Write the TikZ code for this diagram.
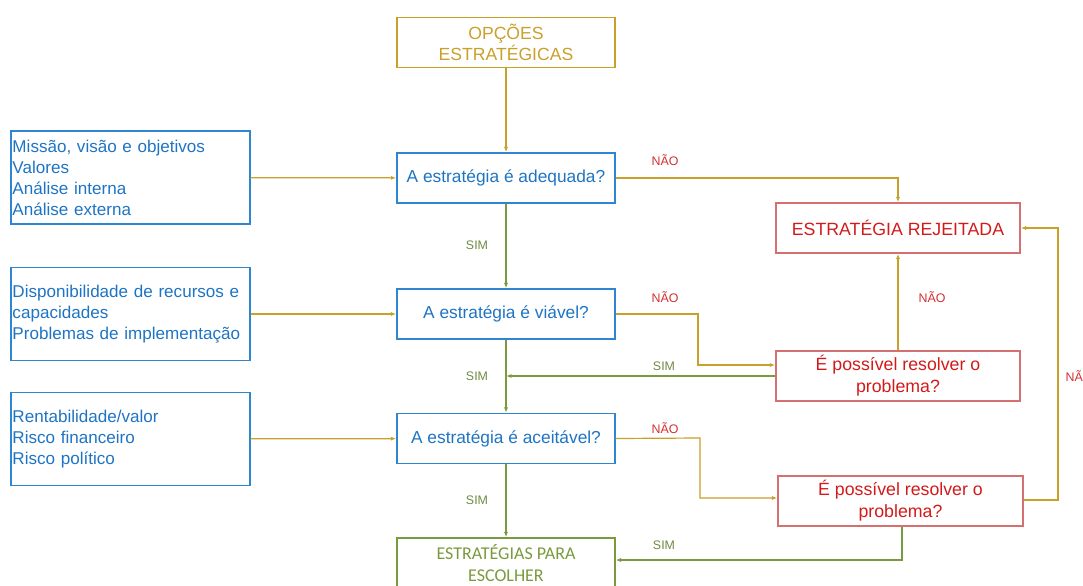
\documentclass[tikz,border=0pt]{standalone}
\usepackage{fontspec}
\setmainfont{Liberation Sans}
\newfontfamily\calibrilike{Carlito}
\usetikzlibrary{arrows.meta}
\definecolor{gold}{HTML}{C9A02A}
\definecolor{qblue}{HTML}{2F86D0}
\definecolor{tblue}{HTML}{1E74C4}
\definecolor{rtext}{HTML}{D21A1A}
\definecolor{rline}{HTML}{D57070}
\definecolor{sgreen}{HTML}{7A9A3E}
\definecolor{lblred}{HTML}{D23030}
\definecolor{lblgreen}{HTML}{6F8A45}
\tikzset{
  box/.style={draw, rectangle, line width=1.1pt, inner sep=0pt, align=center},
  qbox/.style={box, draw=qblue, text=tblue, minimum width=163.5pt, minimum height=37.5pt, font=\fontsize{13}{15}\selectfont},
  inbox/.style={box, draw=qblue, text=tblue, minimum width=179.25pt, minimum height=69.75pt, text width=177pt, align=left, font=\fontsize{12.8}{15.7}\selectfont},
  rbox/.style={box, draw=rline, text=rtext, minimum width=183pt, minimum height=37.5pt, font=\fontsize{13.3}{16.5}\selectfont},
  gline/.style={draw=gold, line width=0.9pt, -{Latex[length=4pt,width=3pt]}},
  sline/.style={draw=sgreen, line width=0.9pt, -{Latex[length=4pt,width=3pt]}},
  nlbl/.style={text=lblred, font=\fontsize{9.3}{11}\selectfont},
  slbl/.style={text=lblgreen, font=\fontsize{9.3}{11}\selectfont}
}
\begin{document}
\begin{tikzpicture}[x=0.75pt,y=-0.75pt]
\useasboundingbox (0,0) rectangle (1083,586);

% main column
\node[box, draw=gold, text=gold, minimum width=163.5pt, minimum height=37.5pt,
      font=\fontsize{13.2}{16}\selectfont] (opt) at (506,42.5) {OPÇÕES\\ESTRATÉGICAS};
\node[qbox] (q1) at (506,178) {A estratégia é adequada?};
\node[qbox] (q2) at (506,314) {A estratégia é viável?};
\node[qbox] (q3) at (506,438.5) {A estratégia é aceitável?};
\node[box, draw=sgreen, text=sgreen, minimum width=163.5pt, minimum height=37.5pt,
      font=\calibrilike\fontsize{13.5}{16.5}\selectfont] (fin) at (506,563) {ESTRATÉGIAS PARA\\ESCOLHER};

% criteria on the left
\node[inbox] (c1) at (130.5,177.5) {Missão, visão e objetivos\\Valores\\Análise interna\\Análise externa};
\node[inbox] (c2) at (130.5,314) {Disponibilidade de recursos e\\capacidades\\Problemas de implementação};
\node[inbox] (c3) at (130.5,439) {Rentabilidade/valor\\Risco financeiro\\Risco político};

% rejection branch
\node[rbox] (rej) at (898,228) {ESTRATÉGIA REJEITADA};
\node[rbox] (p1) at (898,376) {É possível resolver o\\problema?};
\node[rbox, minimum width=183.75pt] (p2) at (900.5,501) {É possível resolver o\\problema?};

% connectors
\draw[gline] (opt) -- (q1);
\draw[gline] (c1) -- (q1);
\draw[gline] (c2) -- (q2);
\draw[gline] (c3) -- (q3);

\draw[gline] (q1.east) -| (rej.north);
\node[nlbl] at (665,160) {NÃO};

\draw[sline] (q1) -- (q2);
\node[slbl] at (477,245) {SIM};
\draw[sline] (q2) -- (q3);
\node[slbl] at (477,376) {SIM};
\draw[sline] (q3) -- (fin);
\node[slbl] at (477,500) {SIM};

\coordinate (p1in) at ([yshift=8.25pt]p1.west);
\draw[gline] (q2.east) -- (698,314) |- (p1in);
\node[nlbl] at (665,297) {NÃO};

\draw[gline] (p1.north) -- (rej.south);
\node[nlbl] at (932,297) {NÃO};

\draw[sline] (p1.west) -- (p1.west -| q2.south);
\node[slbl] at (664,366) {SIM};

\coordinate (p2in) at ([yshift=2.25pt]p2.west);
\draw[gline] (q3.east) -- (700,438) |- (p2in);
\node[nlbl] at (665,428) {NÃO};

\coordinate (p2out) at ([yshift=0.75pt]p2.east);
\draw[gline] (p2out) -- (1058,500) |- (rej.east);
\node[nlbl, anchor=west] at (1061,376) {NÃO};

\coordinate (p2low) at ([xshift=1.125pt]p2.south);
\draw[sline] (p2low) |- ([yshift=2.25pt]fin.east);
\node[slbl] at (664,545) {SIM};
\end{tikzpicture}
\end{document}
